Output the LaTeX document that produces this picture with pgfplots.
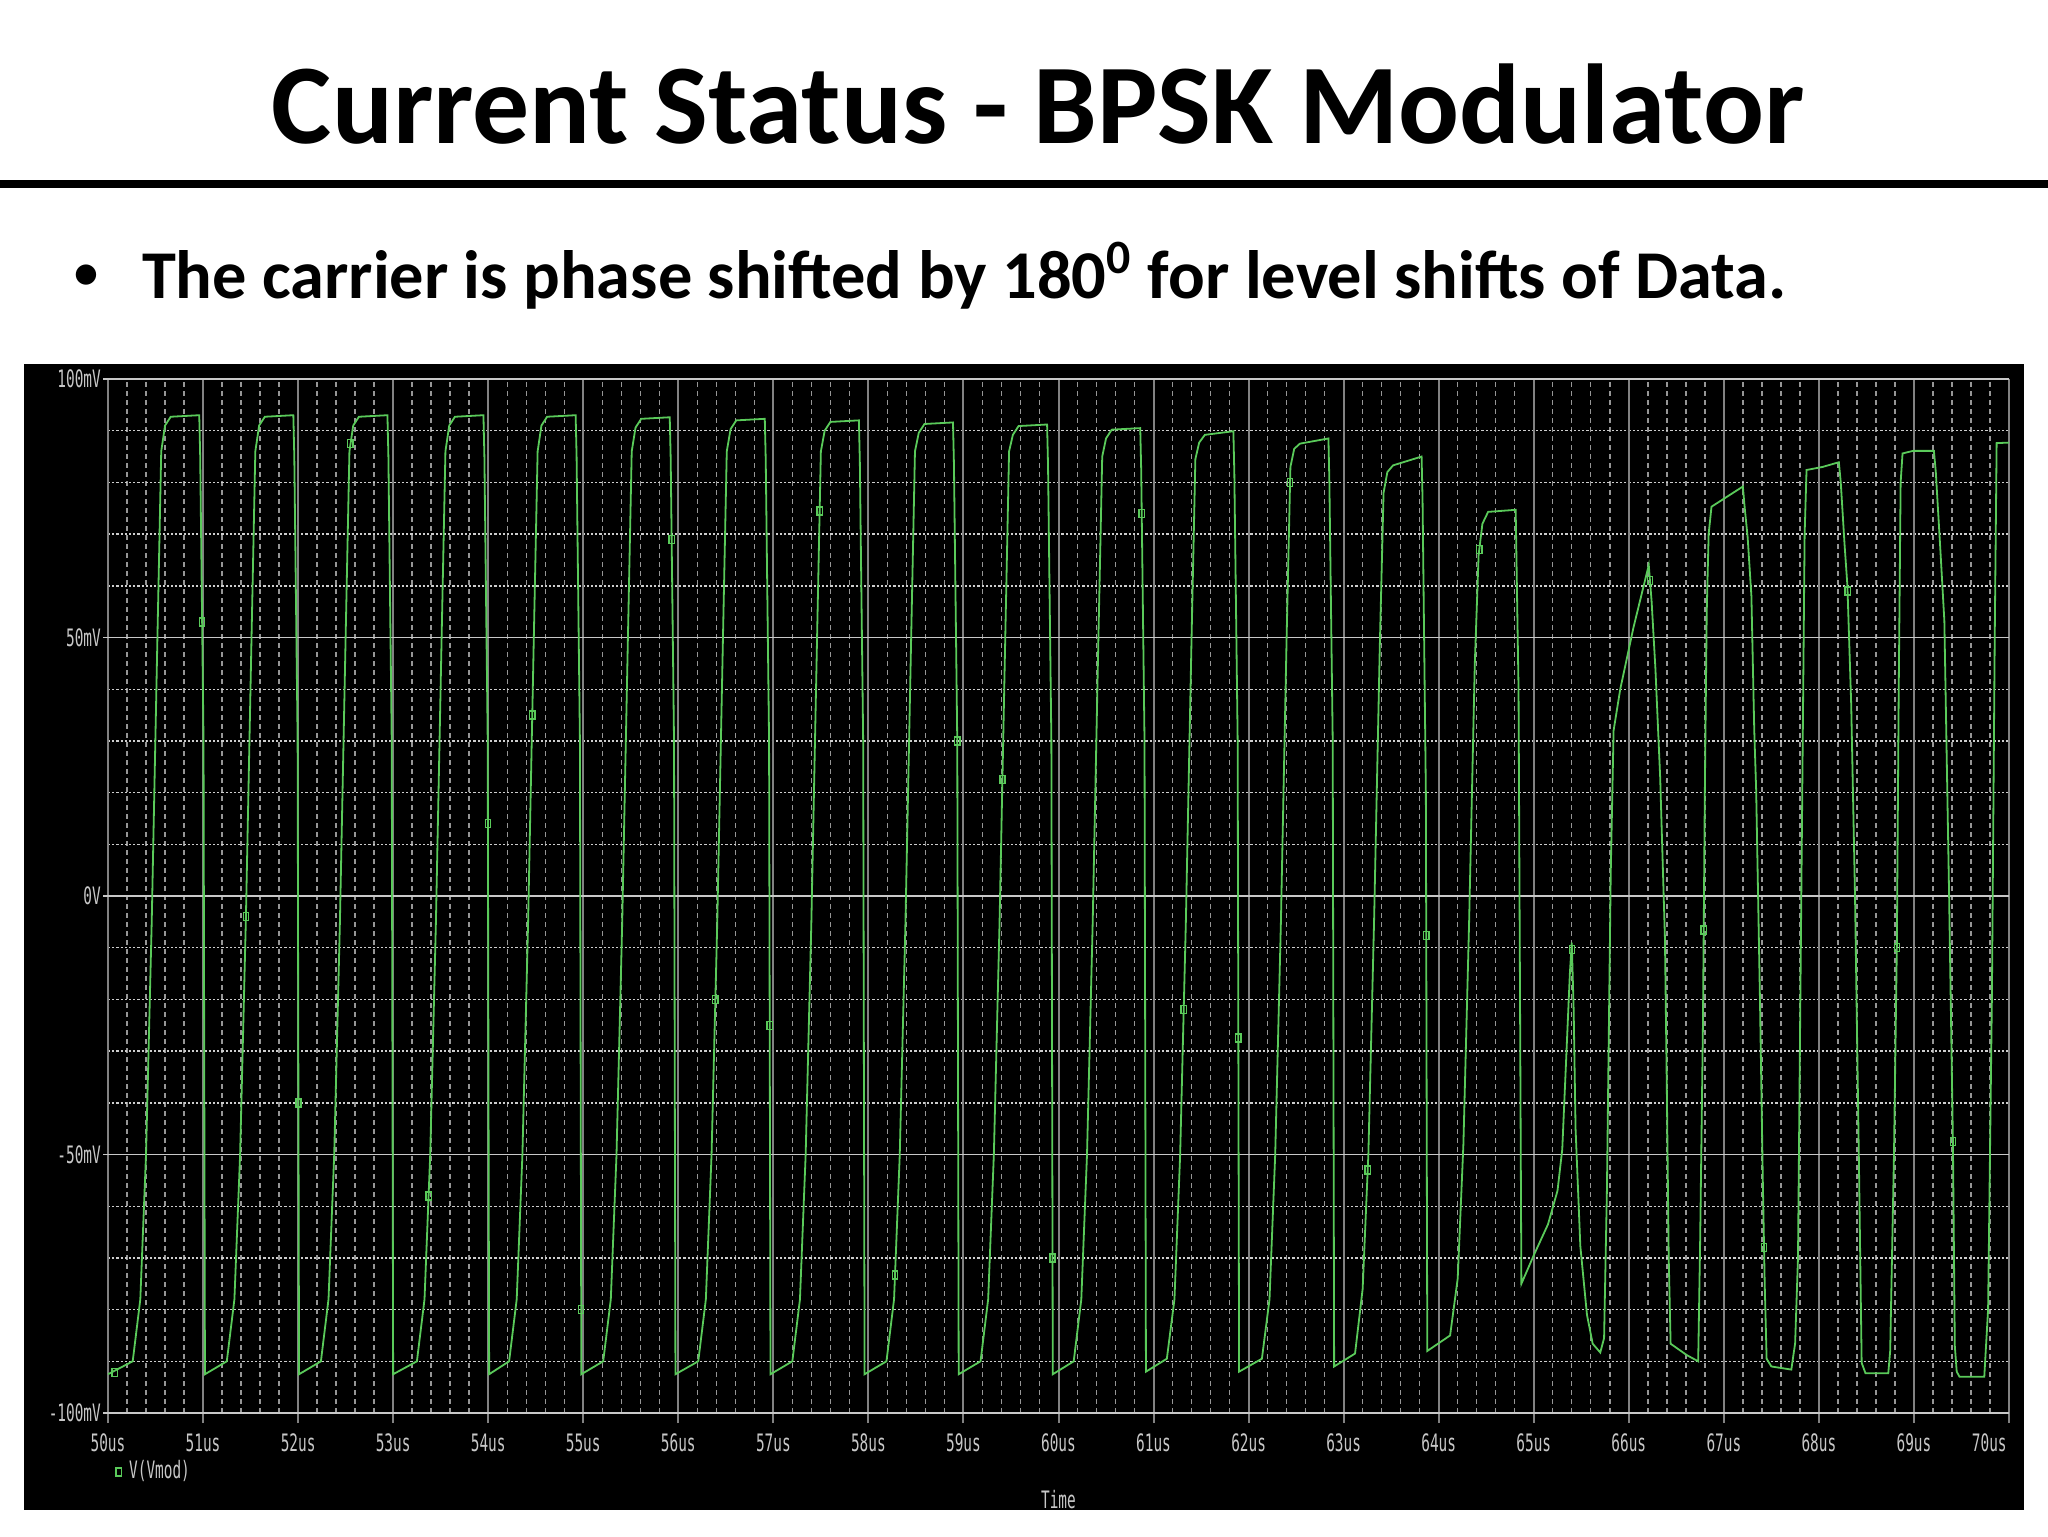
\documentclass[border=0pt]{standalone}
\usepackage{fontspec}
\setmainfont{Carlito}
\newfontfamily\pslabfont[FakeStretch=0.6]{DejaVu Sans Mono}
\usepackage{pgfplots}
\pgfplotsset{compat=1.18}
\definecolor{trace}{RGB}{90,202,90}
\definecolor{labgray}{RGB}{200,200,200}
\definecolor{majv}{RGB}{130,130,130}
\definecolor{minv}{RGB}{150,150,150}
\definecolor{majh}{RGB}{200,200,200}
\definecolor{minh}{RGB}{205,205,205}
\newcommand\pslab{\pslabfont\fontsize{6}{7}\selectfont}
\begin{document}
\begin{tikzpicture}[x=1pt,y=1pt]
\path[use as bounding box, fill=white] (0,0) rectangle (512,384);
% title and rule
\node[anchor=base, inner sep=0pt, font=\bfseries\fontsize{28.4}{32}\selectfont] at (259.5,348.25) {Current Status - BPSK Modulator};
\fill[black] (0,337) rectangle (512,339);
\node[anchor=base, inner sep=0pt, font=\bfseries\fontsize{12}{14}\selectfont] at (21.6,311.8) {•};
\node[anchor=base west, inner sep=0pt, font=\bfseries\fontsize{17.1}{20}\selectfont] at (35.3,309.4) {The carrier is phase shifted by 180\textsuperscript{0} for level shifts of Data.};
% black panel
\fill[black] (6,6.5) rectangle (506,293);
% grid
\foreach \i in {0,...,19}{\foreach \j in {1,...,4}{
  \pgfmathsetmacro\xx{27+\i*23.7625+\j*4.7525}
  \draw[minv, line width=0.35pt, dash pattern=on 1.25pt off 1pt] (\xx,30.75) -- (\xx,289.25);
}}
\foreach \i in {0,...,3}{\foreach \j in {1,...,4}{
  \pgfmathsetmacro\yy{30.75+\i*64.625+\j*12.925}
  \draw[minh, line width=0.35pt, dash pattern=on 0.55pt off 0.5pt] (27,\yy) -- (502.25,\yy);
}}
\foreach \i in {0,...,20}{
  \pgfmathsetmacro\xx{27+\i*23.7625}
  \draw[majv, line width=0.5pt] (\xx,28.25) -- (\xx,289.25);
}
\foreach \i in {0,...,4}{
  \pgfmathsetmacro\yy{30.75+\i*64.625}
  \draw[majh, line width=0.45pt] (25.75,\yy) -- (502.25,\yy);
}
\begin{axis}[
  at={(27pt,30.75pt)}, anchor=south west,
  scale only axis, width=475.25pt, height=258.5pt,
  xmin=50, xmax=70, ymin=-100, ymax=100,
  axis line style={draw=none},
  tick style={draw=none},
  xtick={50,51,52,53,54,55,56,57,58,59,60,61,62,63,64,65,66,67,68,69,70},
  xticklabels={50us,51us,52us,53us,54us,55us,56us,57us,58us,59us,60us,61us,62us,63us,64us,65us,66us,67us,68us,69us,\makebox[0pt][r]{70us\hspace{0.6pt}}},
  ytick={-100,-50,0,50,100},
  yticklabels={-100mV,-50mV,0V,50mV,100mV},
  xticklabel style={font=\pslab, text=labgray, anchor=center, inner sep=0pt, yshift=-7.5pt},
  yticklabel style={font=\pslab, text=labgray, anchor=east, inner sep=0pt, xshift=-1.6pt},
  xlabel={Time},
  xlabel style={font=\pslab, text=labgray, at={(axis description cs:0.5,0)}, anchor=center, yshift=-21.75pt, inner sep=0pt},
  legend style={draw=none, fill=none, at={(rel axis cs:0,0)}, anchor=west, xshift=1.8pt, yshift=-14.75pt, inner sep=0pt, font=\pslab, text=labgray},
  legend image code/.code={\draw[#1] plot coordinates {(2.2pt,0pt)};},
]
\addplot[trace, line width=0.45pt, forget plot] coordinates {
(50.00,-92.5) (50.26,-90)
(50.34,-78) (50.40,-50) (50.46,-5) (50.52,50) (50.56,86) (50.60,91) (50.66,92.7) (50.96,93) (50.97,85) (51.005,30) (51.02,-92.5)
(51.25,-90) (51.33,-78) (51.39,-50) (51.45,-5) (51.51,50) (51.55,86) (51.59,91) (51.65,92.7) (51.95,93) (51.96,85) (51.995,30) (52.01,-92.5)
(52.24,-90) (52.32,-78) (52.38,-50) (52.44,-5) (52.50,50) (52.54,86) (52.58,91) (52.64,92.7) (52.94,93) (52.95,85) (52.985,30) (53.00,-92.5)
(53.25,-90) (53.33,-78) (53.39,-50) (53.45,-5) (53.51,50) (53.55,86) (53.59,91) (53.65,92.7) (53.95,93) (53.96,85) (53.995,30) (54.01,-92.5)
(54.22,-90) (54.30,-78) (54.36,-50) (54.42,-5) (54.48,50) (54.52,86) (54.56,91) (54.62,92.7) (54.92,93) (54.93,85) (54.965,30) (54.98,-92.5)
(55.21,-90) (55.29,-78) (55.35,-50) (55.41,-5) (55.47,50) (55.51,86) (55.55,90.6) (55.61,92.3) (55.91,92.6) (55.92,84.6) (55.955,30) (55.97,-92.5)
(56.21,-90) (56.29,-78) (56.35,-50) (56.41,-5) (56.47,50) (56.51,86) (56.55,90.3) (56.61,92) (56.91,92.3) (56.92,84.3) (56.955,30) (56.97,-92.5)
(57.20,-90) (57.28,-78) (57.34,-50) (57.40,-5) (57.46,50) (57.50,86) (57.54,90) (57.60,91.7) (57.90,92) (57.91,84) (57.945,30) (57.96,-92.5)
(58.19,-90) (58.27,-78) (58.33,-50) (58.39,-5) (58.45,50) (58.49,86) (58.53,89.6) (58.59,91.3) (58.89,91.6) (58.90,83.6) (58.935,30) (58.95,-92.5)
(59.18,-90) (59.26,-78) (59.32,-50) (59.38,-5) (59.44,50) (59.48,86) (59.52,89.2) (59.58,90.9) (59.88,91.2) (59.89,83.2) (59.925,30) (59.94,-92.5)
(60.16,-90) (60.24,-78) (60.30,-50) (60.36,-5) (60.42,50) (60.46,85) (60.50,88.5) (60.56,90.2) (60.86,90.5) (60.87,82.5) (60.905,30) (60.92,-92)
(61.14,-89.5) (61.22,-78) (61.28,-50) (61.34,-5) (61.40,50) (61.44,84.5) (61.48,87.7) (61.54,89.2) (61.84,89.9) (61.85,81.7) (61.885,30) (61.90,-92)
(62.14,-89.5) (62.22,-78) (62.28,-50) (62.34,-5) (62.40,50) (62.44,83) (62.48,86.5) (62.54,87.5) (62.84,88.5) (62.85,80) (62.885,30) (62.90,-91)
(63.12,-88.5) (63.20,-76) (63.26,-50) (63.32,-5) (63.38,48) (63.42,78) (63.46,82) (63.52,83.3) (63.82,85) (63.83,77) (63.865,20) (63.88,-88)
(64.12,-85) (64.20,-74) (64.26,-48) (64.32,-5) (64.38,45) (64.42,66) (64.46,72) (64.52,74.3) (64.81,74.7) (64.84,40) (64.87,-75)
(65.00,-69.5) (65.15,-63.5) (65.25,-57) (65.30,-49) (65.34,-32) (65.38,-15) (65.40,-9) (65.42,-22) (65.44,-45) (65.49,-67.7) (65.56,-81) (65.62,-86.6) (65.70,-88.3) (65.74,-85.5) (65.77,-56.7) (65.81,4.4) (65.84,32) (65.91,40) (66.05,52) (66.19,62.5) (66.21,64) (66.24,57) (66.28,44) (66.33,23) (66.38,-8) (66.40,-37) (66.42,-70) (66.44,-86.6) (66.61,-88.8) (66.73,-90)
(66.75,-67.7) (66.78,-25) (66.80,20) (66.82,55) (66.84,70) (66.87,75.3) (67.20,79.2) (67.22,75) (67.25,69.5) (67.29,58) (67.32,32) (67.34,20.5) (67.38,-20) (67.41,-55) (67.43,-75) (67.45,-89.5) (67.50,-91) (67.71,-91.6)
(67.75,-86.5) (67.78,-70) (67.80,-30) (67.83,30) (67.85,70) (67.87,82.4) (68.04,83) (68.21,83.9) (68.23,80) (68.27,68) (68.30,60) (68.34,37) (68.38,0) (68.42,-50) (68.45,-90.3) (68.49,-92.3) (68.73,-92.3)
(68.75,-88) (68.79,-50) (68.82,-10) (68.84,40) (68.86,80) (68.88,85.6) (68.99,86.1) (69.21,86.1) (69.23,82) (69.28,66.3) (69.32,53.2) (69.37,0) (69.41,-47.5) (69.43,-87) (69.45,-92) (69.48,-93) (69.74,-93)
(69.78,-80) (69.82,-20) (69.85,50) (69.87,87.6) (70.0,87.7)
};
\addplot[only marks, mark=square, mark size=1pt, mark options={trace, line width=0.35pt, xscale=0.65}] coordinates {
(50.07,-92.2) (50.99,53) (51.45,-4) (52.004,-40) (52.55,87.5) (53.375,-58) (53.997,14) (54.464,35) (54.978,-80) (55.93,69)
(56.39,-20) (56.962,-25) (57.487,74.5) (58.28,-73.3) (58.935,30) (59.41,22.5) (59.937,-70) (60.876,74) (61.317,-22) (61.892,-27.5)
(62.436,80) (63.253,-53) (63.869,-7.6) (64.427,67) (65.402,-10.3) (66.223,61) (66.788,-6.6) (67.423,-68) (68.302,59) (68.82,-10) (69.41,-47.5)
};
\addlegendentry{V(Vmod)}
\end{axis}
\end{tikzpicture}
\end{document}
